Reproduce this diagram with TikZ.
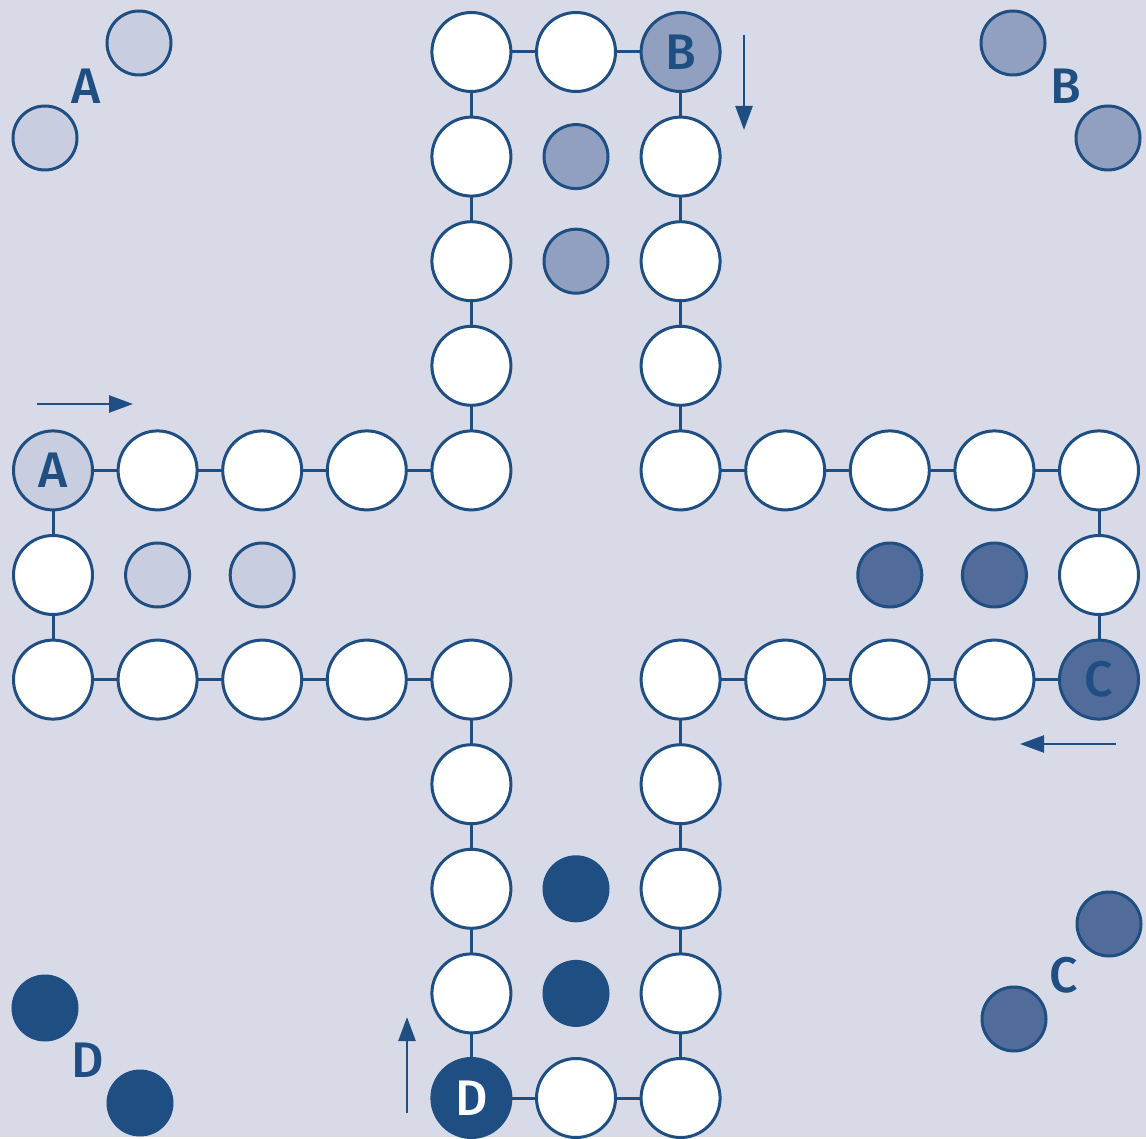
\documentclass[tikz,border=0pt]{standalone}
\usepackage{fontspec}
\setmainfont{Fira Sans}[BoldFont={Fira Sans Medium}]
\usetikzlibrary{arrows.meta}
\definecolor{bg}{HTML}{D8DBE7}
\definecolor{ink}{HTML}{1F4E82}
\definecolor{fa}{HTML}{C8CEDF}
\definecolor{fb}{HTML}{91A0C0}
\definecolor{fc}{HTML}{516C9A}
\definecolor{fd}{HTML}{1F4E82}
\begin{document}
\begin{tikzpicture}[x=1pt,y=-1pt,
  cell/.style={circle,draw=ink,line width=3pt,fill=white,minimum size=79pt,inner sep=0pt,outer sep=0pt,
    font=\fontsize{50}{50}\selectfont\bfseries,text=ink},
  pawn/.style={circle,draw=ink,line width=3pt,minimum size=64pt,inner sep=0pt,outer sep=0pt},
  link/.style={draw=ink,line width=3pt},
  lbl/.style={text=ink,font=\fontsize{50}{50}\selectfont\bfseries,inner sep=0pt},
  dir/.style={draw=ink,line width=2.6pt,-{Triangle[length=24pt,width=17pt]}}]
\fill[bg] (0,0) rectangle (1146,1137);
\def\s{104.6}
% track cells
\foreach \i/\j in {4/0,5/0,4/1,4/2,4/3,4/4,6/1,6/2,6/3,6/4,
                   1/4,2/4,3/4,0/5,0/6,1/6,2/6,3/6,4/6,
                   7/4,8/4,9/4,10/4,10/5,6/6,7/6,8/6,9/6,
                   4/7,4/8,4/9,6/7,6/8,6/9,6/10,5/10}
  \node[cell] (c-\i-\j) at ({53+\s*\i},{52+\s*\j}) {};
\node[cell,fill=fa] (c-0-4) at ({53+\s*0},{52+\s*4}) {A};
\node[cell,fill=fb] (c-6-0) at ({53+\s*6},{52+\s*0}) {B};
\node[cell,fill=fc] (c-10-6) at ({53+\s*10},{52+\s*6}) {C};
\node[cell,fill=fd,text=white] (c-4-10) at ({53+\s*4},{52+\s*10}) {D};
% links
\foreach \j in {4,6}
  \foreach \a/\b in {0/1,1/2,2/3,3/4,6/7,7/8,8/9,9/10}
    \draw[link] (c-\a-\j) -- (c-\b-\j);
\foreach \i in {4,6}
  \foreach \a/\b in {0/1,1/2,2/3,3/4,6/7,7/8,8/9,9/10}
    \draw[link] (c-\i-\a) -- (c-\i-\b);
\foreach \a/\b in {4/5,5/6}{
  \draw[link] (c-\a-0) -- (c-\b-0);
  \draw[link] (c-\a-10) -- (c-\b-10);
  \draw[link] (c-0-\a) -- (c-0-\b);
  \draw[link] (c-10-\a) -- (c-10-\b);
}
% home rows
\foreach \i/\j/\f in {5/1/fb,5/2/fb,1/5/fa,2/5/fa,8/5/fc,9/5/fc,5/8/fd,5/9/fd}
  \node[pawn,fill=\f] (h-\i-\j) at ({53+\s*\i},{52+\s*\j}) {};
% corner pawns
\node[pawn,fill=fa] (pa1) at (45,138) {};
\node[pawn,fill=fa] (pa2) at (139,43) {};
\node[lbl] (la) at (86,86) {A};
\node[pawn,fill=fb] (pb1) at (1013,43) {};
\node[pawn,fill=fb] (pb2) at (1108,138) {};
\node[lbl] (lb) at (1066,86) {B};
\node[pawn,fill=fc] (pc1) at (1109,924) {};
\node[pawn,fill=fc] (pc2) at (1014,1019) {};
\node[lbl] (lc) at (1064,975) {C};
\node[pawn,fill=fd] (pd1) at (45,1008) {};
\node[pawn,fill=fd] (pd2) at (140,1103) {};
\node[lbl] (ld) at (88,1060) {D};
% direction arrows
\coordinate (a1) at (37,404); \coordinate (a2) at (133,404);
\coordinate (b1) at (744,35); \coordinate (b2) at (744,130);
\coordinate (k1) at (1116,744); \coordinate (k2) at (1020,744);
\coordinate (d1) at (407,1113); \coordinate (d2) at (407,1017);
\draw[dir] (a1) -- (a2);
\draw[dir] (b1) -- (b2);
\draw[dir] (k1) -- (k2);
\draw[dir] (d1) -- (d2);
\end{tikzpicture}
\end{document}
